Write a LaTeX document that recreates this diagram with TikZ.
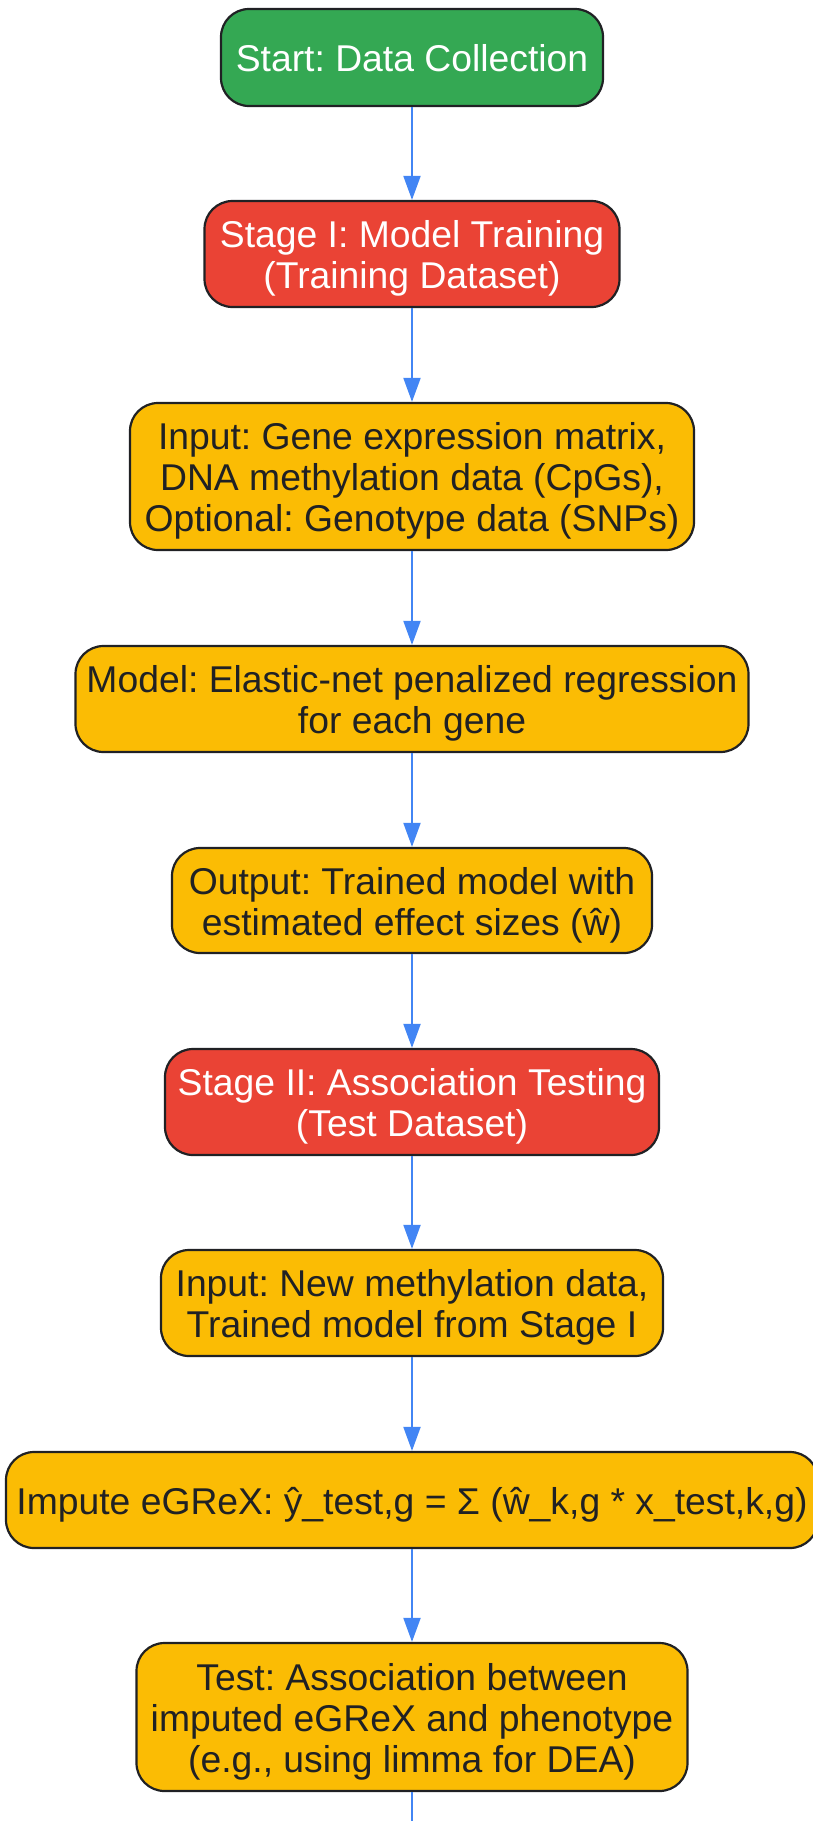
\documentclass[tikz,border=0pt]{standalone}
\usepackage{fontspec}
\setmainfont{Liberation Sans}
\usetikzlibrary{arrows.meta}
\definecolor{gGreen}{HTML}{34A853}
\definecolor{gRed}{HTML}{EA4335}
\definecolor{gYellow}{HTML}{FBBC04}
\definecolor{gBlue}{HTML}{4285F4}
\definecolor{gBorder}{HTML}{202124}
\definecolor{gText}{HTML}{202124}
\newcommand{\mlines}[1]{\begin{tabular}[t]{@{}c@{}}#1\end{tabular}}
\tikzset{
  box/.style={draw=gBorder, line width=2.2pt, rounded corners=28pt,
    inner sep=0pt, font=\fontsize{37.3}{41}\selectfont\frenchspacing, text height=30pt},
  oneline/.style={text depth=2pt},
  twolines/.style={text depth=43pt},
  threelines/.style={text depth=84pt},
  startbox/.style={box, fill=gGreen, text=white},
  stagebox/.style={box, fill=gRed, text=white},
  procbox/.style={box, fill=gYellow, text=gText},
  flow/.style={draw=gBlue, line width=2pt, -{Triangle[length=24pt,width=17pt]}},
  flowend/.style={draw=gBlue, line width=2pt}
}
\begin{document}
\frenchspacing
\begin{tikzpicture}[x=1pt,y=-1pt]
\useasboundingbox (0,0) rectangle (812,1821);
\node[startbox, oneline, minimum width=382pt, minimum height=97pt] (start) at (412,57.5) {\mlines{Start: Data Collection}};
\node[stagebox, twolines, minimum width=415pt, minimum height=106pt] (s1) at (412,254) {\mlines{Stage I: Model Training\\(Training Dataset)}};
\node[procbox, threelines, minimum width=564pt, minimum height=147pt] (in1) at (412,476.5) {\mlines{Input: Gene expression matrix,\\DNA methylation data (CpGs),\\Optional: Genotype data (SNPs)}};
\node[procbox, twolines, minimum width=673pt, minimum height=106pt] (model) at (412,699) {\mlines{Model: Elastic-net penalized regression\\for each gene}};
\node[procbox, twolines, minimum width=480pt, minimum height=105pt] (out) at (412,900.5) {\mlines{Output: Trained model with\\estimated effect sizes (ŵ)}};
\node[stagebox, twolines, minimum width=494pt, minimum height=106pt] (s2) at (412,1102) {\mlines{Stage II: Association Testing\\(Test Dataset)}};
\node[procbox, twolines, minimum width=502pt, minimum height=106pt] (in2) at (412,1303) {\mlines{Input: New methylation data,\\Trained model from Stage I}};
\node[procbox, oneline, minimum width=812pt, minimum height=96pt] (imp) at (412,1500) {\mlines{Impute eGReX: ŷ\_test,g = Σ (ŵ\_k,g * x\_test,k,g)}};
\node[procbox, threelines, minimum width=551pt, minimum height=148pt] (test) at (412,1717) {\mlines{Test: Association between\\imputed eGReX and phenotype\\(e.g., using limma for DEA)}};
\coordinate (endpt) at (412,1830);
\draw[flow] (start) -- (s1);
\draw[flow] (s1) -- (in1);
\draw[flow] (in1) -- (model);
\draw[flow] (model) -- (out);
\draw[flow] (out) -- (s2);
\draw[flow] (s2) -- (in2);
\draw[flow] (in2) -- (imp);
\draw[flow] (imp) -- (test);
\draw[flowend] (test) -- (endpt);
\end{tikzpicture}
\end{document}
